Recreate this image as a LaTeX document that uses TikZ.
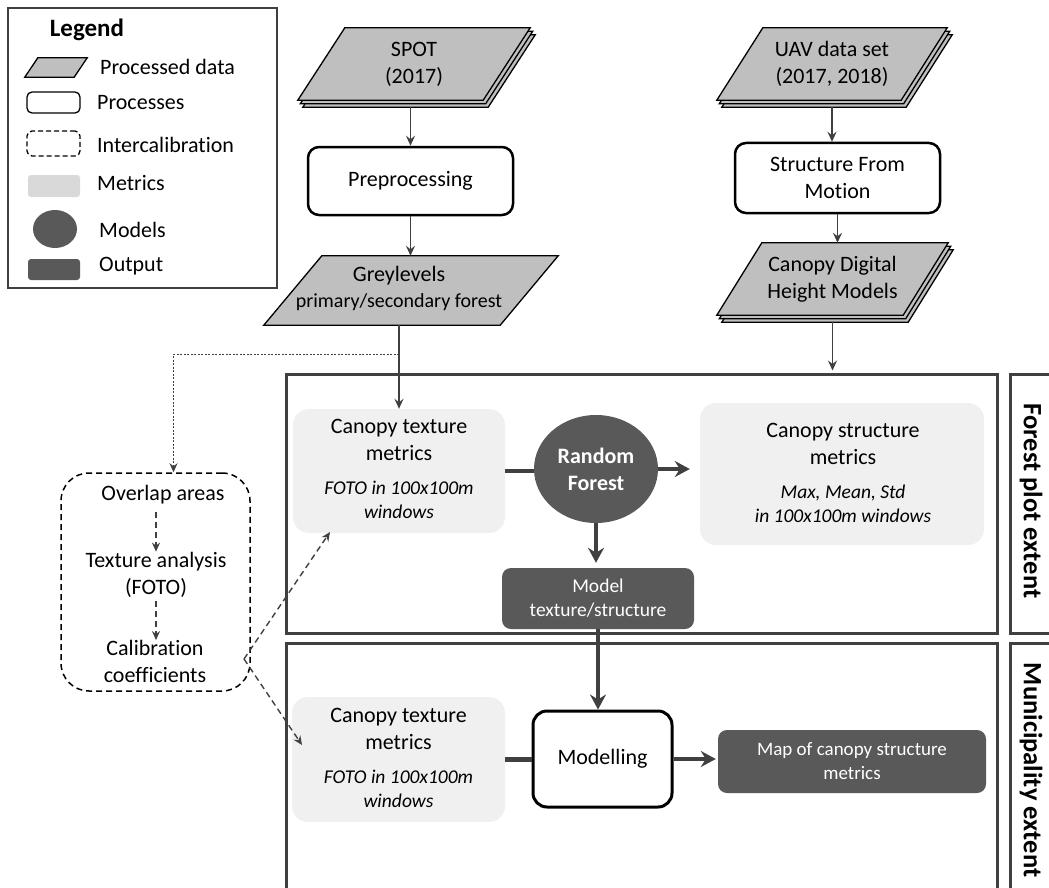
\documentclass[tikz,border=0pt]{standalone}
\usepackage{fontspec}
\setmainfont{Carlito}[Ligatures=CommonOff]
\usetikzlibrary{arrows.meta,shapes.geometric,backgrounds}
\definecolor{pgray}{HTML}{BFBFBF}
\definecolor{mgray}{HTML}{F0F0F0}
\definecolor{lgray}{HTML}{D9D9D9}
\definecolor{dgray}{HTML}{595959}
\definecolor{agray}{HTML}{404040}
\tikzset{
  data/.style={inner sep=0pt, align=center},
  datash/.style={draw=black, line width=1.3pt, fill=pgray, line join=miter},
  proc/.style={draw=black, line width=2.5pt, rounded corners=11pt, fill=white, inner sep=0pt, align=center},
  metric/.style={fill=mgray, rounded corners=16pt, inner sep=0pt},
  outp/.style={fill=dgray, rounded corners=9pt, inner sep=0pt, text=white, font=\fontsize{19.5}{24}\selectfont, align=center},
  frame/.style={draw=agray, line width=3pt, inner sep=0pt},
  arr/.style={draw=agray, line width=1.5pt, -{Stealth[length=10pt,width=9pt,inset=3.5pt]}},
  tharr/.style={draw=agray, line width=4.5pt, -{Stealth[length=15pt,width=16pt,inset=5pt]}},
  thline/.style={draw=agray, line width=4.5pt},
  darr/.style={draw=agray, line width=1.4pt, dash pattern=on 6pt off 4pt, -{Stealth[length=9pt,width=8pt,inset=3pt]}},
  dotarr/.style={draw=agray, line width=1pt, dash pattern=on 2pt off 1.5pt, -{Stealth[length=9pt,width=8pt,inset=3pt]}},
  txt/.style={inner sep=0pt, align=center},
  ital/.style={inner sep=0pt, align=center, font=\fontsize{19.5}{24}\selectfont\itshape},
  legtxt/.style={inner sep=0pt, anchor=west},
  vlab/.style={rotate=-90, inner sep=0pt, font=\fontsize{26.5}{30}\selectfont\bfseries}
}
% #1 node name, #2 slant, #3 x offset, #4 y offset (down)
\newcommand\paraShape[4]{%
  \path[datash] ([xshift=#2+#3,yshift=-#4]#1.north west) -- ([xshift=#3,yshift=-#4]#1.north east)
     -- ([xshift=-#2+#3,yshift=-#4]#1.south east) -- ([xshift=#3,yshift=-#4]#1.south west) -- cycle;}
\newcommand\paraStack[2]{%
  \paraShape{#1}{#2}{5pt}{7pt}%
  \paraShape{#1}{#2}{2.5pt}{3.5pt}%
  \paraShape{#1}{#2}{0pt}{0pt}}
\begin{document}
\begin{tikzpicture}[x=1pt,y=-1pt,font=\fontsize{22}{27}\selectfont]
\useasboundingbox (0,0) rectangle (1049,888);
\clip (0,0) rectangle (1049,888);

% Legend
\node[draw=agray, line width=1.3pt, minimum width=269pt, minimum height=280pt, inner sep=0pt] (leg) at (142.5,148) {};
\node[inner sep=0pt, font=\fontsize{25}{30}\selectfont\bfseries] (legt) at (87,30) {Legend};
\node[data, minimum width=62pt, minimum height=19pt] (l1) at (56,67.5) {};
\node[legtxt] (l1t) at (100,67) {Processed data};
\node[draw=black, line width=1.3pt, rounded corners=5pt, minimum width=53pt, minimum height=21pt, inner sep=0pt] (l2) at (53.5,102.5) {};
\node[legtxt] (l2t) at (97,103) {Processes};
\node[draw=black, line width=1.3pt, dash pattern=on 5pt off 3pt, rounded corners=5pt, minimum width=53pt, minimum height=25pt, inner sep=0pt] (l3) at (53.5,143.5) {};
\node[legtxt] (l3t) at (97,145) {Intercalibration};
\node[fill=lgray, rounded corners=3pt, minimum width=52pt, minimum height=22pt, inner sep=0pt] (l4) at (54,186) {};
\node[legtxt] (l4t) at (97,183) {Metrics};
\node[ellipse, fill=dgray, minimum width=44pt, minimum height=38pt, inner sep=0pt] (l5) at (55,229) {};
\node[legtxt] (l5t) at (99,230) {Models};
\node[fill=dgray, rounded corners=3pt, minimum width=52pt, minimum height=21pt, inner sep=0pt] (l6) at (54,269.5) {};
\node[legtxt] (l6t) at (99,266) {Output};

% Left column
\node[data, minimum width=232pt, minimum height=72pt] (spot) at (414,64) {SPOT\\(2017)};
\node[proc, minimum width=205pt, minimum height=68pt] (prep) at (410.5,181) {Preprocessing};
\node[data, minimum width=294pt, minimum height=69pt] (grey) at (411,290.5) {};
\node[txt] (greyt1) at (399,276) {Greylevels};
\node[txt, font=\fontsize{20}{24}\selectfont] (greyt2) at (399,302) {primary/secondary forest};

% Right column
\node[data, minimum width=230pt, minimum height=72pt] (uav) at (832,64) {UAV data set\\(2017, 2018)};
\node[proc, minimum width=205pt, minimum height=70pt] (sfm) at (837.5,178) {Structure From\\Motion};
\node[data, minimum width=231pt, minimum height=72pt] (cdhm) at (832.5,279) {Canopy Digital\\Height Models};

\begin{scope}[on background layer]
  \paraShape{l1}{13pt}{0pt}{0pt}
  \paraStack{spot}{47pt}
  \paraShape{grey}{58pt}{0pt}{0pt}
  \paraStack{uav}{46pt}
  \paraStack{cdhm}{45pt}
\end{scope}

% Frames
\node[frame, minimum width=711pt, minimum height=259pt] (fp) at (641.5,503.5) {};
\node[frame, minimum width=711pt, minimum height=260pt] (mu) at (641.5,773) {};
\node[frame, minimum width=52pt, minimum height=259pt] (fpl) at (1036,503.5) {};
\node[frame, minimum width=52pt, minimum height=260pt] (mul) at (1036,773) {};
\node[vlab] (fplt) at (1031,501) {Forest plot extent};
\node[vlab] (mult) at (1031,770) {Municipality extent};

% Forest plot extent content
\node[metric, minimum width=212pt, minimum height=124pt] (ctm1) at (399,471) {};
\node[txt] (ctm1a) at (399,439.5) {Canopy texture\\metrics};
\node[ital] (ctm1b) at (399,500) {FOTO in 100x100m\\windows};
\node[ellipse, fill=dgray, minimum width=124pt, minimum height=108pt, inner sep=0pt, text=white, font=\fontsize{22}{27}\selectfont\bfseries, align=center] (rf) at (596,469) {Random\\Forest};
\node[metric, minimum width=284pt, minimum height=142pt] (csm) at (842,474) {};
\node[txt] (csma) at (843,443.5) {Canopy structure\\metrics};
\node[ital] (csmb) at (843,503.5) {Max, Mean, Std\\in 100x100m windows};
\node[outp, minimum width=192pt, minimum height=61pt] (out1) at (598,598.5) {Model\\texture/structure};

% Municipality content
\node[metric, minimum width=213pt, minimum height=125pt] (ctm2) at (398.5,759.5) {};
\node[txt] (ctm2a) at (398.5,728.5) {Canopy texture\\metrics};
\node[ital] (ctm2b) at (398.5,788.5) {FOTO in 100x100m\\windows};
\node[proc, line width=3pt, rounded corners=14pt, minimum width=139pt, minimum height=96pt] (mod) at (602.5,759) {Modelling};
\node[outp, font=\fontsize{19}{24}\selectfont, minimum width=268pt, minimum height=63pt] (out2) at (852,761.5) {Map of canopy structure\\metrics};

% Intercalibration
\node[draw=black, line width=1.5pt, dash pattern=on 6pt off 4pt, rounded corners=28pt, minimum width=189pt, minimum height=218pt, inner sep=0pt] (ic) at (155.5,582) {};
\node[txt] (ov) at (163,495) {Overlap areas};
\node[txt] (ta) at (156,574.5) {Texture analysis\\(FOTO)};
\node[txt] (cc) at (155,661.5) {Calibration\\coefficients};

% Connectors
\coordinate (spotb) at ([yshift=-7pt]spot.south);
\coordinate (uavb) at ([yshift=-7pt]uav.south);
\coordinate (cdhmb) at ([yshift=-7pt]cdhm.south);
\draw[arr] (spotb -| prep.north) -- (prep.north);
\draw[arr] (prep.south) -- (prep.south |- grey.north);
\draw[arr] (grey.south -| ctm1.north) -- (ctm1.north);
\coordinate (br) at (399,354);
\draw[dotarr] (br) -| ([xshift=18pt]ic.north);
\draw[arr] (uavb) -- (uavb |- sfm.north);
\draw[arr] (sfm.south) -- (sfm.south |- cdhm.north);
\draw[arr, shorten >=2pt] (cdhmb) -- (cdhmb |- fp.north);

\draw[thline] (ctm1.east) -- (ctm1.east -| rf.west);
\draw[tharr, shorten >=10pt] (rf.east) -- (rf.east -| csm.west);
\draw[tharr, shorten >=5pt] (rf.south) -- (rf.south |- out1.north);
\draw[tharr] (out1.south) -- (out1.south |- mod.north);
\draw[thline] (ctm2.east) -- (ctm2.east -| mod.west);
\draw[tharr, shorten >=2pt] (mod.east) -- (mod.east -| out2.west);

\draw[darr, shorten <=7pt] (ov.south -| ta.north) -- (ta.north);
\draw[darr, shorten <=4pt] (ta.south) -- (ta.south |- cc.north);
\coordinate (cx) at (244,659);
\coordinate (t1) at (330,532);
\coordinate (t2) at (302,745);
\draw[darr] (cx) -- (t1);
\draw[darr] (cx) -- (t2);
\end{tikzpicture}
\end{document}
